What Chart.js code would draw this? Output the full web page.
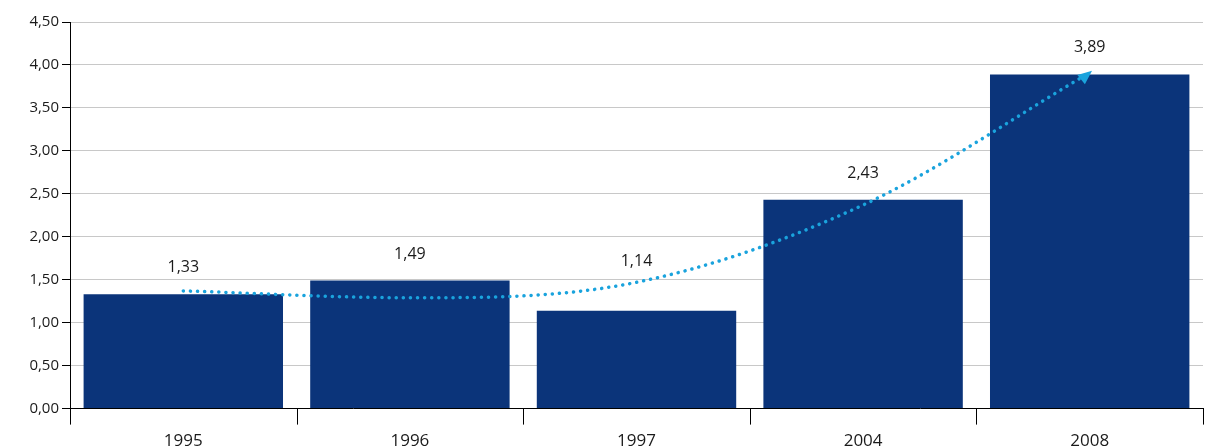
<!DOCTYPE html>
<html><head><meta charset="utf-8">
<script src="https://cdn.jsdelivr.net/npm/chart.js@4"></script>
<style>html,body{margin:0;padding:0;background:#fff;overflow:hidden}#wrap{width:1207px;height:473px}</style>
</head><body><div id="wrap"><canvas id="c"></canvas></div>
<script>
const years = ['1995', '1996', '1997', '2004', '2008'];
const values = [1.33, 1.49, 1.14, 2.43, 3.89];
const trend = [1.37, 1.29, 1.47, 2.37, 3.91];

const fmt = v => v.toFixed(2).replace('.', ',');

const labelPlugin = {
    id: 'labels',
    afterDatasetsDraw(chart) {
        const ctx = chart.ctx;
        const meta = chart.getDatasetMeta(0);
        const tm = chart.getDatasetMeta(1).data;
        ctx.save();
        ctx.font = '16px "Open Sans"';
        ctx.fillStyle = '#1a1a1a';
        ctx.textAlign = 'center';
        meta.data.forEach((bar, i) => {
            const top = Math.min(bar.y - 6, tm[i].y);
            ctx.fillText(fmt(values[i]), bar.x, top - 16);
        });
        // x tick marks between categories
        const xs = chart.scales.x, y0 = chart.scales.y.bottom;
        ctx.strokeStyle = '#000';
        ctx.lineWidth = 1;
        for (let i = 0; i <= years.length; i++) {
            const x = Math.round(xs.left + i * (xs.right - xs.left) / years.length) + 0.5;
            ctx.beginPath(); ctx.moveTo(x, y0); ctx.lineTo(x, y0 + 16); ctx.stroke();
        }
        // arrow head at end of trend
        const a = tm[tm.length - 1], b = tm[tm.length - 2];
        const ang = Math.atan2(a.y - b.y, a.x - b.x) - 0.15;
        ctx.fillStyle = '#1aa3dd';
        ctx.translate(a.x, a.y); ctx.rotate(ang);
        ctx.beginPath(); ctx.moveTo(3, 0); ctx.lineTo(-11, -6); ctx.lineTo(-11, 6); ctx.closePath(); ctx.fill();
        ctx.restore();
    }
};

new Chart(document.getElementById('c'), {
    type: 'bar',
    data: {
        labels: years,
        datasets: [
            {data: values, backgroundColor: '#0b347a', barPercentage: 0.88, categoryPercentage: 1, order: 2},
            {type: 'line', data: trend, borderColor: '#1aa3dd', borderWidth: 3.5, borderDash: [0.1, 7], borderCapStyle: 'round',
             cubicInterpolationMode: 'monotone', pointRadius: 0, fill: false, order: 1}
        ]
    },
    options: {
        responsive: true, maintainAspectRatio: false, animation: false,
        layout: {padding: {top: 22, right: 4, left: 0, bottom: 0}},
        plugins: {legend: {display: false}, tooltip: {enabled: false}},
        scales: {
            x: {grid: {display: false, drawTicks: false}, border: {color: '#000'},
                ticks: {color: '#1a1a1a', font: {size: 17, family: 'Open Sans'}, padding: 22}},
            y: {min: 0, max: 4.5, afterFit: s => { s.width = 70; },
                ticks: {stepSize: 0.5, color: '#1a1a1a', font: {size: 15, family: 'Open Sans'}, callback: v => fmt(v)},
                grid: {color: '#c8c8c8', tickColor: '#000', tickLength: 8}, border: {color: '#000'}}
        }
    },
    plugins: [labelPlugin]
});
</script></body></html>
